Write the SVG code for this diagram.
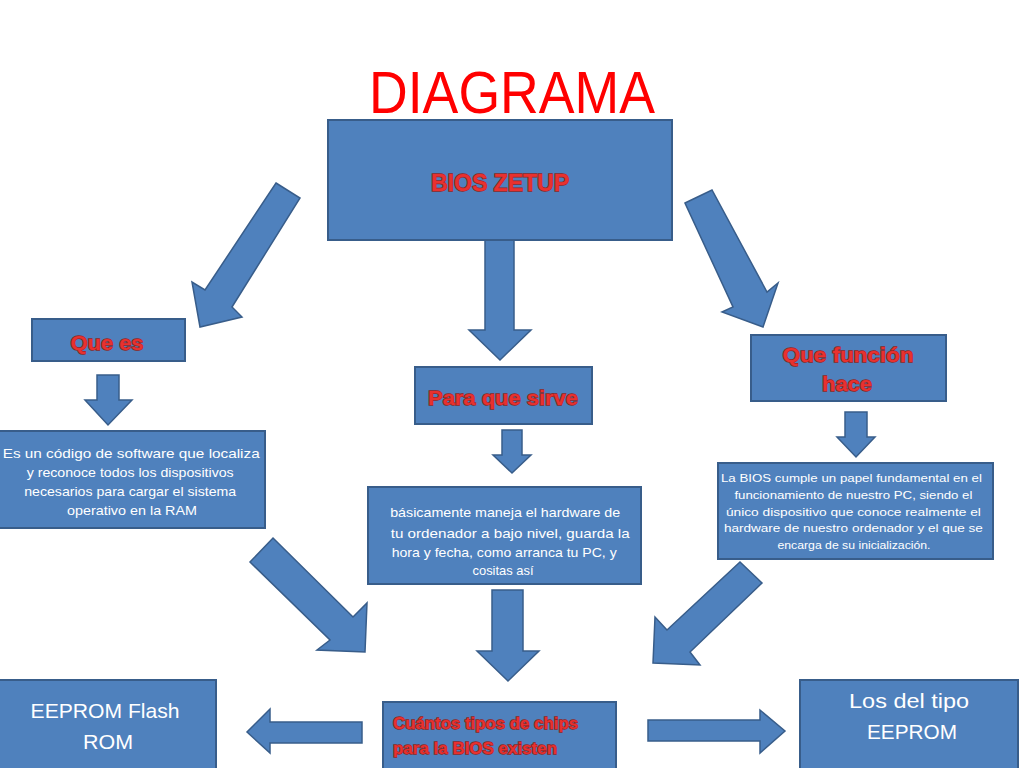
<svg xmlns="http://www.w3.org/2000/svg" width="1024" height="768" viewBox="0 0 1024 768">
<style>
.box{fill:#4f81bd;stroke:#385d8a;stroke-width:2}
.arr{fill:#4f81bd;stroke:#385d8a;stroke-width:1.5;stroke-linejoin:miter}
.t{font-family:"Liberation Sans",Arial,sans-serif;fill:#ffffff;text-anchor:middle}
.w{font-family:"Liberation Sans",Arial,sans-serif;font-weight:bold;fill:#e8312f;stroke:#8f2523;stroke-width:1.4;paint-order:stroke;text-anchor:middle}
.title{font-family:"Liberation Sans",Arial,sans-serif;fill:#ff0000;text-anchor:middle}
</style>
<rect width="1024" height="768" fill="#ffffff"/>
<text class="title" x="512" y="113" font-size="60" textLength="286" lengthAdjust="spacingAndGlyphs">DIAGRAMA</text>

<g id="connectors">
<polygon class="arr" points="276,183 300,198 232,307 242,317 200,327 192,282 205,290"/>
<polygon class="arr" points="485,240 514,240 514,330 531,330 500,360 469,330 485,330"/>
<polygon class="arr" points="685,203 712,190 767,292 778,283 763,327 722,312 733,307"/>
<polygon class="arr" points="97,375 119,375 119,400 132,400 108,425 85,400 97,400"/>
<polygon class="arr" points="502,430 522,430 522,455 531,455 512,473 493,455 502,455"/>
<polygon class="arr" points="845,412 867,412 867,437 875,437 856,457 837,437 845,437"/>
<polygon class="arr" points="273,538 353,617 367,603 365,652 317,650 330,640 250,562"/>
<polygon class="arr" points="492,590 523,590 523,651 539,651 508,681 477,651 492,651"/>
<polygon class="arr" points="740,562 762,583 690,652 700,665 653,663 655,617 667,630"/>
<polygon class="arr" points="362,722 362,743 270,743 270,753 247,732 270,709 270,722"/>
<polygon class="arr" points="648,720 760,720 760,710 785,731 760,753 760,741 648,741"/>
</g>

<g id="bios">
<rect class="box" x="328" y="120" width="344" height="120"/>
<text class="w" x="500" y="191" font-size="23" textLength="138" lengthAdjust="spacingAndGlyphs">BIOS ZETUP</text>
</g>

<g id="quees">
<rect class="box" x="32" y="319" width="153" height="42"/>
<text class="w" x="107" y="350" font-size="20" textLength="73" lengthAdjust="spacingAndGlyphs">Que es</text>
</g>

<g id="paraque">
<rect class="box" x="415" y="367" width="177" height="57"/>
<text class="w" x="503" y="405" font-size="20" textLength="150" lengthAdjust="spacingAndGlyphs">Para que sirve</text>
</g>

<g id="quefuncion">
<rect class="box" x="751" y="335" width="195" height="66"/>
<text class="w" x="848" y="362" font-size="20" textLength="131" lengthAdjust="spacingAndGlyphs">Que función</text>
<text class="w" x="847" y="391" font-size="20" textLength="50" lengthAdjust="spacingAndGlyphs">hace</text>
</g>

<g id="desc-quees">
<rect class="box" x="-2" y="431" width="267" height="97"/>
<text class="t" font-size="13">
<tspan x="133" y="458" textLength="257" lengthAdjust="spacingAndGlyphs">Es un código de software que localiza</tspan>
<tspan x="132" y="477" textLength="207" lengthAdjust="spacingAndGlyphs">y reconoce todos los dispositivos</tspan>
<tspan x="132" y="496" textLength="212" lengthAdjust="spacingAndGlyphs">necesarios para cargar el sistema</tspan>
<tspan x="132" y="515" textLength="130" lengthAdjust="spacingAndGlyphs">operativo en la RAM</tspan>
</text>
</g>

<g id="desc-paraque">
<rect class="box" x="368" y="487" width="273" height="97"/>
<text class="t" font-size="13">
<tspan x="507" y="517" textLength="230" lengthAdjust="spacingAndGlyphs">básicamente maneja el hardware de</tspan>
<tspan x="512" y="538" textLength="239" lengthAdjust="spacingAndGlyphs">tu ordenador a bajo nivel, guarda la</tspan>
<tspan x="506" y="557" textLength="225" lengthAdjust="spacingAndGlyphs">hora y fecha, como arranca tu PC, y</tspan>
<tspan x="503" y="575" textLength="61" lengthAdjust="spacingAndGlyphs">cositas así</tspan>
</text>
</g>

<g id="desc-funcion">
<rect class="box" x="718" y="463" width="275" height="96"/>
<text class="t" font-size="11.5">
<tspan x="853" y="482" textLength="261" lengthAdjust="spacingAndGlyphs">La BIOS cumple un papel fundamental en el</tspan>
<tspan x="855" y="499" textLength="238" lengthAdjust="spacingAndGlyphs">funcionamiento de nuestro PC, siendo el</tspan>
<tspan x="855" y="516" textLength="255" lengthAdjust="spacingAndGlyphs">único dispositivo que conoce realmente el</tspan>
<tspan x="855" y="532" textLength="259" lengthAdjust="spacingAndGlyphs">hardware de nuestro ordenador y el que se</tspan>
<tspan x="854" y="549" textLength="153" lengthAdjust="spacingAndGlyphs">encarga de su inicialización.</tspan>
</text>
</g>

<g id="cuantos">
<rect class="box" x="383" y="702" width="233" height="70"/>
<text class="w" font-size="16" style="text-anchor:start">
<tspan x="393" y="729" textLength="185" lengthAdjust="spacingAndGlyphs">Cuántos tipos de chips</tspan>
<tspan x="393" y="754" textLength="164" lengthAdjust="spacingAndGlyphs">para la BIOS existen</tspan>
</text>
</g>

<g id="eeprom-flash">
<rect class="box" x="-2" y="680" width="218" height="92"/>
<text class="t" font-size="21">
<tspan x="108" y="718" textLength="149" lengthAdjust="spacingAndGlyphs">EEPROM Flash</tspan>
<tspan x="108" y="749" textLength="50" lengthAdjust="spacingAndGlyphs">ROM</tspan>
</text>
</g>

<g id="eeprom">
<rect class="box" x="800" y="680" width="218" height="92"/>
<text class="t" font-size="21">
<tspan x="912" y="708" textLength="120" lengthAdjust="spacingAndGlyphs">Los del tipo</tspan>
<tspan x="912" y="739" textLength="90" lengthAdjust="spacingAndGlyphs">EEPROM</tspan>
</text>
</g>
</svg>
